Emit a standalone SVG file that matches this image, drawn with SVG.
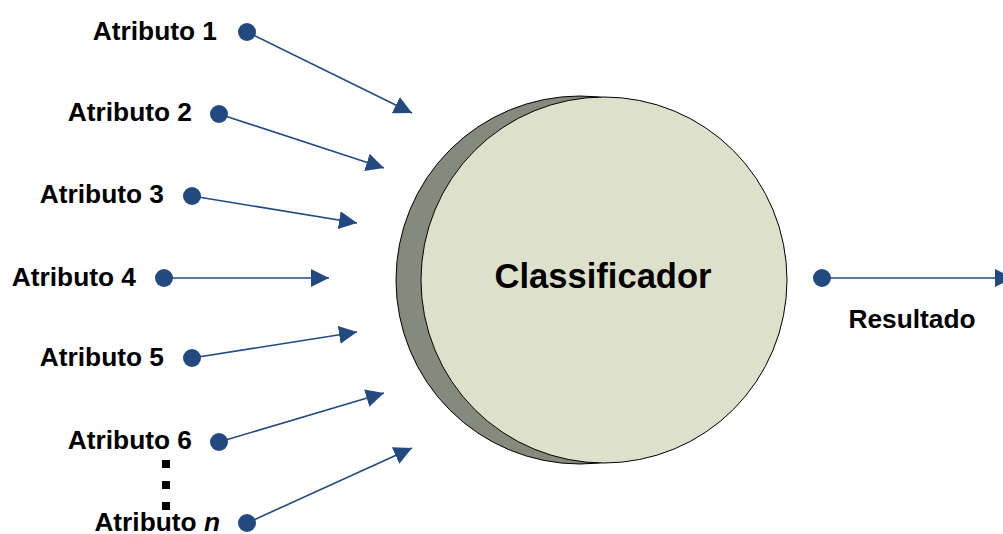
<svg xmlns="http://www.w3.org/2000/svg" width="1003" height="534" viewBox="0 0 1003 534">
<defs>
<marker id="ah" markerUnits="userSpaceOnUse" markerWidth="20" markerHeight="20" viewBox="0 -10 20 20" refX="18" refY="0" orient="auto">
<path d="M0,-9 L18,0 L0,9 z" fill="#224a80"/>
</marker>
<style>
.lbl{font-family:"Liberation Sans",Arial,sans-serif;font-weight:bold;font-size:26.3px;fill:#000;text-anchor:end}
.dot{fill:#224a80}
.conn{stroke:#224a80;stroke-width:1.6;fill:none;marker-end:url(#ah)}
</style>
</defs>
<rect width="1003" height="534" fill="#fff"/>
<g id="classificador">
<circle cx="580" cy="280" r="184" fill="#868a7c" stroke="#000" stroke-width="1"/>
<circle cx="604" cy="280" r="183" fill="#dde1cb" stroke="#000" stroke-width="1"/>
<text x="603" y="288" font-family="Liberation Sans, Arial, sans-serif" font-weight="bold" font-size="34.6" text-anchor="middle">Classificador</text>
</g>
<g id="connectors">
<line class="conn" x1="247" y1="32" x2="412" y2="113"/>
<line class="conn" x1="219" y1="114" x2="384" y2="168"/>
<line class="conn" x1="192" y1="196" x2="357" y2="223"/>
<line class="conn" x1="164" y1="278" x2="329" y2="278"/>
<line class="conn" x1="192" y1="358" x2="357" y2="332"/>
<line class="conn" x1="219" y1="442" x2="384" y2="393"/>
<line class="conn" x1="247" y1="523" x2="412" y2="448"/>
<line class="conn" x1="822" y1="278" x2="1013" y2="278"/>
</g>
<g id="atributo1"><circle class="dot" cx="247" cy="32" r="9"/><text class="lbl" x="217" y="40">Atributo 1</text></g>
<g id="atributo2"><circle class="dot" cx="219" cy="114" r="9"/><text class="lbl" x="192" y="121">Atributo 2</text></g>
<g id="atributo3"><circle class="dot" cx="192" cy="196" r="9"/><text class="lbl" x="164" y="203">Atributo 3</text></g>
<g id="atributo4"><circle class="dot" cx="164" cy="278" r="9"/><text class="lbl" x="136" y="286">Atributo 4</text></g>
<g id="atributo5"><circle class="dot" cx="192" cy="358" r="9"/><text class="lbl" x="164" y="366">Atributo 5</text></g>
<g id="atributo6"><circle class="dot" cx="219" cy="442" r="9"/><text class="lbl" x="192" y="449">Atributo 6</text></g>
<g id="ellipsis">
<rect x="162" y="460" width="8" height="8" fill="#000"/>
<rect x="162" y="481" width="8" height="8" fill="#000"/>
<rect x="162" y="502" width="8" height="8" fill="#000"/>
</g>
<g id="atributon"><circle class="dot" cx="247" cy="523" r="9"/><text class="lbl" x="220" y="531">Atributo <tspan font-style="italic">n</tspan></text></g>
<g id="resultado"><circle class="dot" cx="822" cy="278" r="9"/><text class="lbl" x="912" y="328" style="text-anchor:middle">Resultado</text></g>
</svg>
